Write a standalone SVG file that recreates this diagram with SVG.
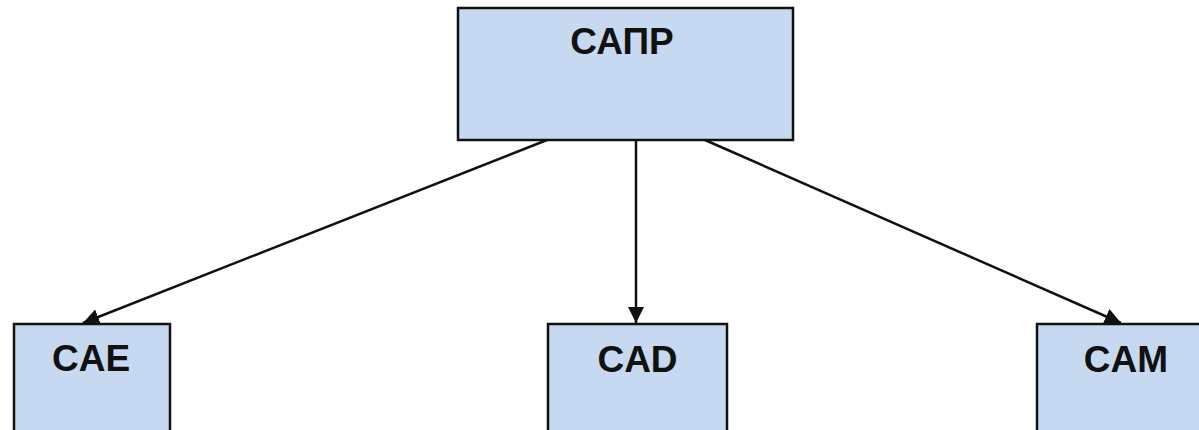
<svg xmlns="http://www.w3.org/2000/svg" width="1199" height="430" viewBox="0 0 1199 430">
<style>
.box{fill:#c6d9f0;stroke:#111;stroke-width:2.5}
.lbl{font-family:"Liberation Sans",Arial,sans-serif;font-weight:bold;font-size:37px;fill:#111;text-anchor:middle}
.conn{stroke:#111;stroke-width:2.5;fill:none}
</style>
<defs>
<marker id="arr" viewBox="0 0 10 10" refX="10" refY="5" markerWidth="6.5" markerHeight="6.5" markerUnits="strokeWidth" orient="auto">
<path d="M0,0 L10,5 L0,10 Z" fill="#111"/>
</marker>
</defs>
<rect width="1199" height="430" fill="#fff"/>
<g id="node-sapr">
<rect class="box" x="458" y="8" width="335" height="132"/>
<text class="lbl" x="622" y="54">САПР</text>
</g>
<g id="node-cae">
<rect class="box" x="14" y="324" width="156" height="120"/>
<text class="lbl" x="91" y="371">CAE</text>
</g>
<g id="node-cad">
<rect class="box" x="548" y="324" width="179" height="120"/>
<text class="lbl" x="637.5" y="372">CAD</text>
</g>
<g id="node-cam">
<rect class="box" x="1037" y="324" width="180" height="120"/>
<text class="lbl" x="1126" y="372">CAM</text>
</g>
<g id="connectors">
<line class="conn" x1="547" y1="140" x2="83" y2="323" marker-end="url(#arr)"/>
<line class="conn" x1="636" y1="140" x2="636" y2="323" marker-end="url(#arr)"/>
<line class="conn" x1="705" y1="140" x2="1121" y2="323" marker-end="url(#arr)"/>
</g>
</svg>
